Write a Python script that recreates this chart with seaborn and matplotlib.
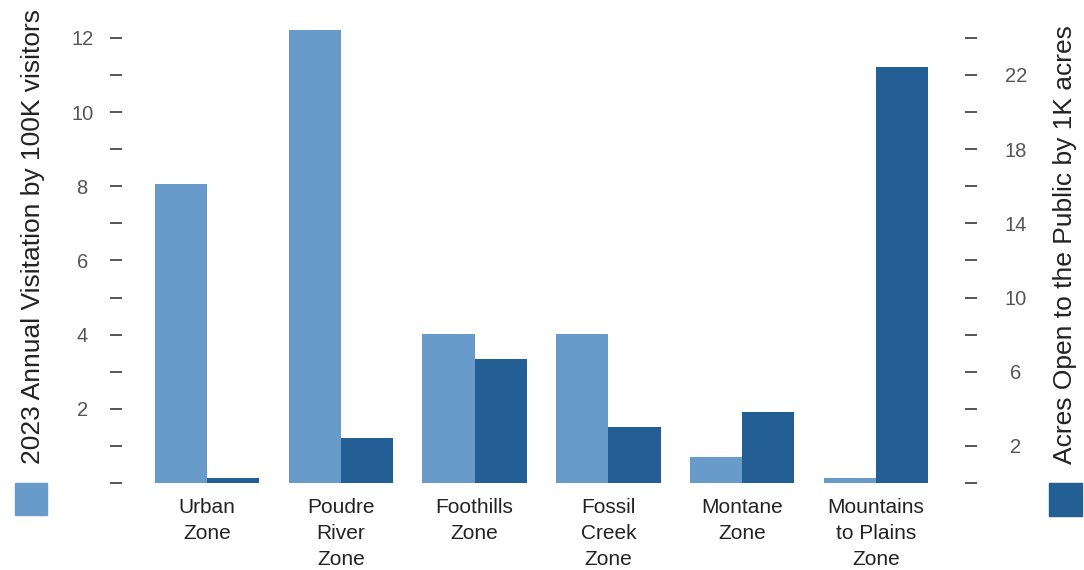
import numpy as np
import pandas as pd
import matplotlib.pyplot as plt
import seaborn as sns
from matplotlib.patches import Rectangle

sns.set_theme(style='white')
plt.rcParams['font.family'] = ['Liberation Sans', 'DejaVu Sans']

# Data
zones = ['Urban\nZone', 'Poudre\nRiver\nZone', 'Foothills\nZone',
         'Fossil\nCreek\nZone', 'Montane\nZone', 'Mountains\nto Plains\nZone']
visitation = [8.05, 12.2, 4.02, 4.02, 0.70, 0.13]   # 100K visitors
acres = [0.27, 2.43, 6.69, 3.02, 3.83, 22.45]       # 1K acres

left_ticks = list(range(0, 13))
left_labels = [str(t) if t % 2 == 0 and t > 0 else '' for t in left_ticks]
right_ticks = list(range(0, 25, 2))
right_labels = [str(t) if t % 4 == 2 else '' for t in right_ticks]

light = '#689bca'
dark = '#235e94'
hue_order = ['Visitation', 'Acres']
palette = {'Visitation': light, 'Acres': dark}

df = pd.DataFrame({
    'zone': zones * 2,
    'metric': ['Visitation'] * len(zones) + ['Acres'] * len(zones),
    'value': visitation + acres,
})

W, H = 1084, 570
fig = plt.figure(figsize=(W / 100, H / 100), dpi=100)
ax = fig.add_axes([140 / W, 87 / H, 803 / W, 460 / H])

bar_kw = dict(x='zone', y='value', hue='metric', hue_order=hue_order,
              palette=palette, order=zones, width=0.78, dodge=True,
              saturation=1, linewidth=0, legend=False)
sns.barplot(data=df[df.metric == 'Visitation'], ax=ax, **bar_kw)
ax2 = ax.twinx()
sns.barplot(data=df[df.metric == 'Acres'], ax=ax2, **bar_kw)

ax.set_xlim(-0.5, len(zones) - 0.5)
ax.set_ylim(0, 12.4)
ax2.set_ylim(0, 24.8)

for a in (ax, ax2):
    a.set_xlabel('')
    a.set_ylabel('')
    for s in a.spines.values():
        s.set_visible(False)

ax.spines['left'].set_position(('outward', 13))
ax2.spines['right'].set_position(('outward', 15.8))

ax.set_yticks(left_ticks, left_labels)
ax2.set_yticks(right_ticks, right_labels)

ax.tick_params(axis='y', left=True, length=8.6, width=1.4, color='#555555',
               labelcolor='#555555', labelsize=14.5, pad=20)
ax2.tick_params(axis='y', right=True, length=8.6, width=1.4, color='#555555',
                labelcolor='#555555', labelsize=14.5, pad=28)
for lab in ax.get_yticklabels() + ax2.get_yticklabels():
    lab.set_horizontalalignment('center')

ax.tick_params(axis='x', length=0, pad=11, labelsize=15, labelcolor='#222222')
for lab in ax.get_xticklabels():
    lab.set_linespacing(1.45)

# Axis titles and colour keys
fig.text(33 / W, 1 - 237 / H, '2023 Annual Visitation by 100K visitors',
         rotation=90, ha='center', va='center', fontsize=19, color='#222222')
fig.text(1065 / W, 1 - 245 / H, 'Acres Open to the Public by 1K acres',
         rotation=90, ha='center', va='center', fontsize=19, color='#222222')
fig.add_artist(Rectangle((15 / W, 1 - 515 / H), 32 / W, 32 / H,
                         transform=fig.transFigure, color=light))
fig.add_artist(Rectangle((1049 / W, 1 - 516 / H), 33 / W, 33 / H,
                         transform=fig.transFigure, color=dark))

fig.savefig('out.png', dpi=100)
